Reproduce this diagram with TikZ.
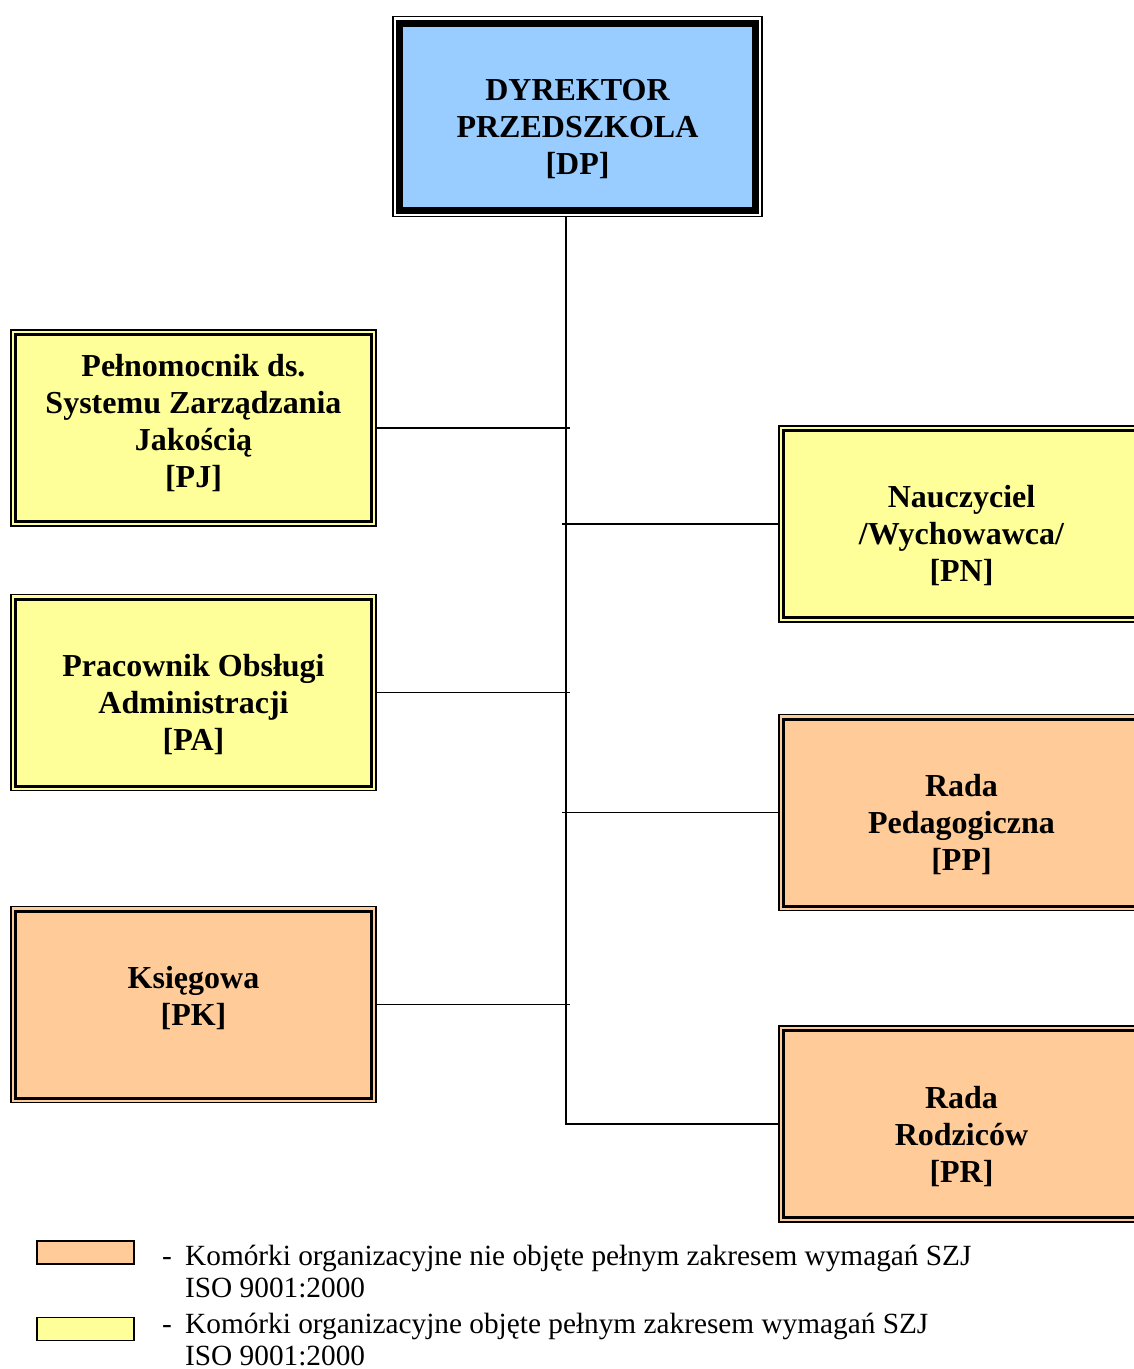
\documentclass[tikz,border=0pt]{standalone}
\usepackage{fontspec}
\setmainfont{Liberation Serif}
\usetikzlibrary{backgrounds}
\definecolor{bluec}{HTML}{99CCFF}
\definecolor{yellowc}{HTML}{FFFF99}
\definecolor{orangec}{HTML}{FFCC99}
\newcommand{\boxtxt}[2]{\parbox[c][187pt][t]{356pt}{\centering\fontsize{32}{37}\selectfont\bfseries\vspace*{#1pt}\strut #2}}
\newcommand{\legtxt}[1]{\parbox[t]{900pt}{\raggedright\fontsize{29.3}{32}\selectfont #1}}
\tikzset{
  orgbox/.style={draw, line width=3pt, inner sep=0pt, outer sep=4.5pt, minimum width=356pt, minimum height=187pt},
  ybox/.style={orgbox, fill=yellowc},
  obox/.style={orgbox, fill=orangec},
  dpbox/.style={orgbox, fill=bluec, line width=7pt, outer sep=6.5pt},
  frame/.style={draw, line width=1.6pt},
  conn/.style={line width=1.9pt},
  legbox/.style={draw, line width=1.5pt, inner sep=0pt, minimum width=97pt, minimum height=23pt},
  legtext/.style={inner sep=0pt, anchor=base west}
}
\begin{document}
\begin{tikzpicture}[x=1pt,y=-1pt]
\useasboundingbox (0,0) rectangle (1134,1369);
\node[dpbox] (dp) at (577.5,116.5) {\boxtxt{52}{DYREKTOR\\PRZEDSZKOLA\\{}[DP]}};
\node[ybox] (pj) at (193.5,428) {\boxtxt{16}{Pełnomocnik ds.\\Systemu Zarządzania\\Jakością\\{}[PJ]}};
\node[ybox] (pa) at (193.5,692.5) {\boxtxt{52}{Pracownik Obsługi\\Administracji\\{}[PA]}};
\node[obox] (pk) at (193.5,1004.5) {\boxtxt{52}{Księgowa\\{}[PK]}};
\node[ybox] (pn) at (961.5,524) {\boxtxt{51}{Nauczyciel\\/Wychowawca/\\{}[PN]}};
\node[obox] (pp) at (961.5,812.5) {\boxtxt{52}{Rada\\Pedagogiczna\\{}[PP]}};
\node[obox] (pr) at (961.5,1124) {\boxtxt{52}{Rada\\Rodziców\\{}[PR]}};
\begin{scope}[on background layer]
  \draw[frame, fill=white] (dp.north west) rectangle (dp.south east);
  \draw[frame, fill=yellowc] (pj.north west) rectangle (pj.south east);
  \draw[frame, fill=yellowc] (pa.north west) rectangle (pa.south east);
  \draw[frame, fill=orangec] (pk.north west) rectangle (pk.south east);
  \draw[frame, fill=yellowc] (pn.north west) rectangle (pn.south east);
  \draw[frame, fill=orangec] (pp.north west) rectangle (pp.south east);
  \draw[frame, fill=orangec] (pr.north west) rectangle (pr.south east);
\end{scope}
\coordinate (tx) at (566,0);
\coordinate (le) at (570,0);
\coordinate (re) at (562,0);
\draw[conn] (dp.south -| tx) -- (pr.west -| tx) -- (pr.west);
\draw[conn] (pj.east) -- (pj.east -| le);
\draw[conn] (pa.east) -- (pa.east -| le);
\draw[conn] (pk.east) -- (pk.east -| le);
\draw[conn] (pn.west -| re) -- (pn.west);
\draw[conn] (pp.west -| re) -- (pp.west);
% legend
\node[legbox, fill=orangec] (lo) at (85.5,1252.5) {};
\node[legbox, fill=yellowc] (ly) at (85.5,1329) {};
\node[legtext] (do) at (162,1265) {\fontsize{29.3}{32}\selectfont -};
\node[legtext] (to) at (185,1265) {\legtxt{Komórki organizacyjne nie objęte pełnym zakresem wymagań SZJ\\ISO 9001:2000}};
\node[legtext] (dy) at (162,1333) {\fontsize{29.3}{32}\selectfont -};
\node[legtext] (ty) at (185,1333) {\legtxt{Komórki organizacyjne objęte pełnym zakresem wymagań SZJ\\ISO 9001:2000}};
\end{tikzpicture}
\end{document}
